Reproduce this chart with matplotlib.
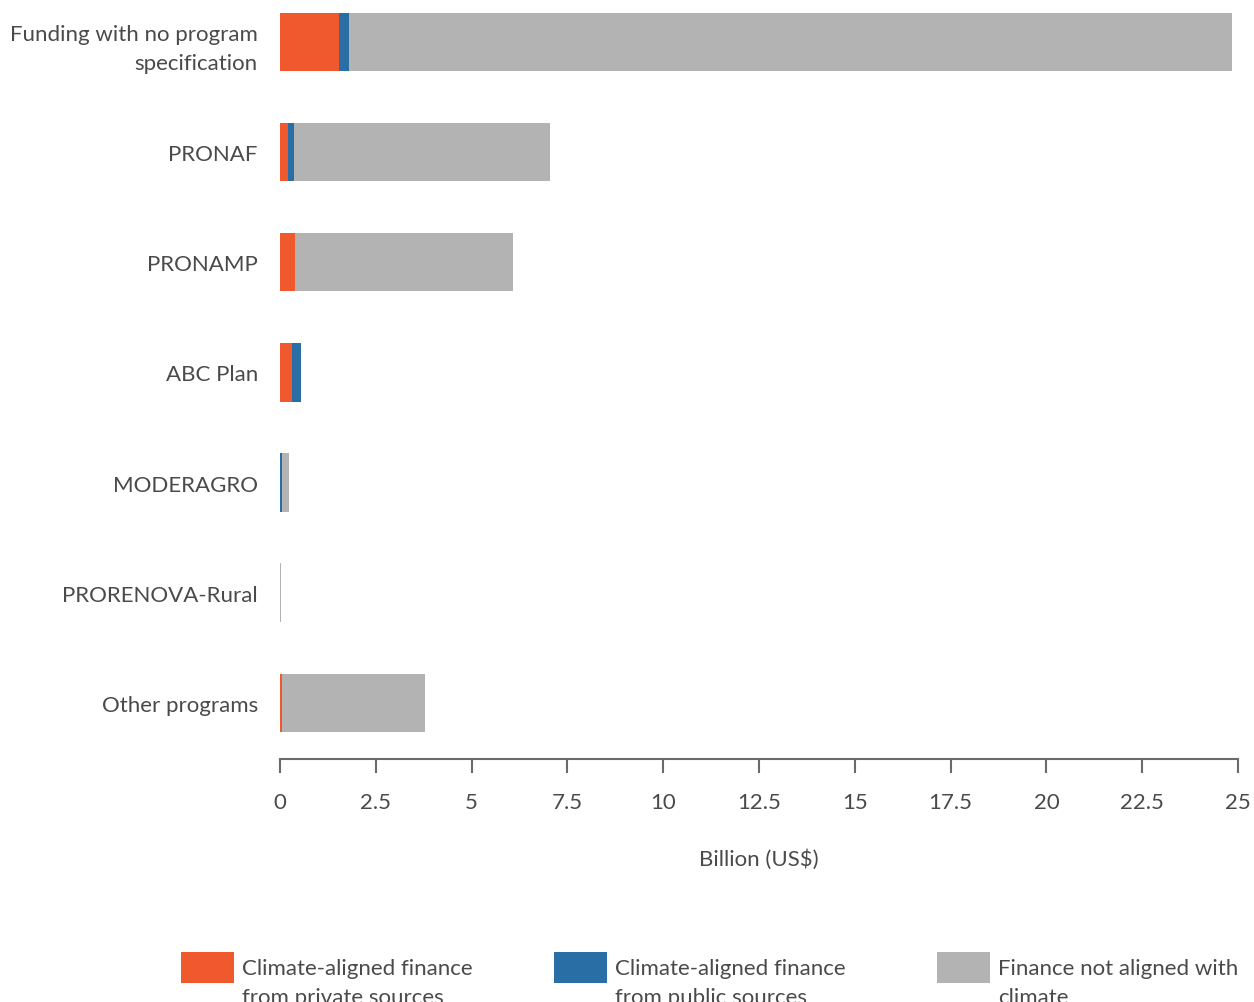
import numpy as np
import matplotlib
matplotlib.use("Agg")
import matplotlib.pyplot as plt
import matplotlib.transforms as mtransforms
from matplotlib.patches import Rectangle

# data (billion US$)
programs = ["Funding with no program\nspecification", "PRONAF", "PRONAMP", "ABC Plan",
            "MODERAGRO", "PRORENOVA-Rural", "Other programs"]
private_aligned = [1.54, 0.21, 0.39, 0.31, 0.0, 0.0, 0.05]
public_aligned = [0.26, 0.16, 0.0, 0.23, 0.05, 0.0, 0.0]
not_aligned = [23.05, 6.68, 5.68, 0.0, 0.18, 0.02, 3.73]

series_names = ["Climate-aligned finance\nfrom private sources",
                "Climate-aligned finance\nfrom public sources",
                "Finance not aligned with\nclimate"]
colors = ["#F0582E", "#2A6EA6", "#B3B3B3"]

plt.rcParams['font.family'] = ['Lato', 'DejaVu Sans']
text_color = "#4a4a4a"
W, H = 1254, 1003

fig = plt.figure(figsize=(12.54, 10.03), dpi=100)
ax = fig.add_axes([280 / W, 1 - 760 / H, (1238 - 280) / W, 760 / H])

y = np.arange(len(programs))
left = np.zeros(len(programs))
for vals, col in zip([private_aligned, public_aligned, not_aligned], colors):
    ax.barh(y, vals, left=left, height=0.53, color=col)
    left += np.array(vals)

ax.set_ylim(6.51, -0.39)
ax.set_xlim(0, 25)
ax.set_xticks(np.arange(0, 25.1, 2.5))
ax.set_xticklabels(["0", "2.5", "5", "7.5", "10", "12.5", "15", "17.5", "20", "22.5", "25"])
ax.set_yticks(y)
ax.set_yticklabels(programs, fontsize=16, color=text_color, linespacing=1.55)

# nudge the two-line label up a little
lab0 = ax.get_yticklabels()[0]
lab0.set_transform(lab0.get_transform() + mtransforms.ScaledTranslation(0, 5 / 100, fig.dpi_scale_trans))

for s in ["top", "right", "left"]:
    ax.spines[s].set_visible(False)
ax.spines["bottom"].set_color("#6b6b6b")
ax.spines["bottom"].set_linewidth(1.5)
ax.tick_params(axis="y", length=0, pad=16)
ax.tick_params(axis="x", length=10, width=1.5, color="#6b6b6b", labelsize=16,
               labelcolor=text_color, pad=14)
ax.set_xlabel("Billion (US$)", fontsize=16, color=text_color, labelpad=26)

# legend: colour box + two-line label, running off the bottom edge
legend_x = [181, 554, 937]
for name, col, lx in zip(series_names, colors, legend_x):
    fig.add_artist(Rectangle((lx / W, 1 - 984 / H), 53 / W, 31 / H,
                             transform=fig.transFigure, facecolor=col, edgecolor="none"))
    fig.text((lx + 61) / W, 1 - 959 / H, name, fontsize=16, color=text_color,
             va="top", ha="left", linespacing=1.55)

fig.savefig("out.png", dpi=100)
